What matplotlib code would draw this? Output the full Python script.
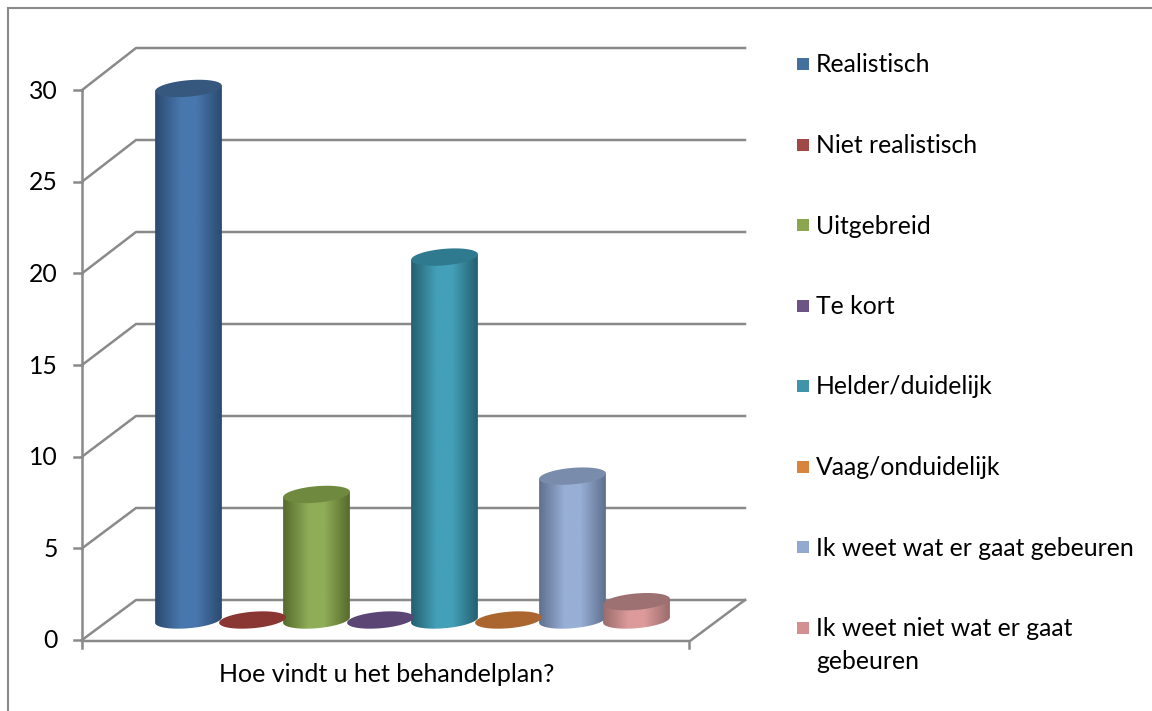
import numpy as np
import matplotlib
matplotlib.use('Agg')
import matplotlib.pyplot as plt
from matplotlib.colors import LinearSegmentedColormap
from matplotlib.patches import PathPatch, Polygon, Rectangle
from matplotlib.path import Path

# datos
categories = ['Realistisch', 'Niet realistisch', 'Uitgebreid', 'Te kort',
              'Helder/duidelijk', 'Vaag/onduidelijk', 'Ik weet wat er gaat gebeuren',
              'Ik weet niet wat er gaat\ngebeuren']
values = [29, 0, 6.85, 0, 19.8, 0, 7.85, 1]
y_ticks = [0, 5, 10, 15, 20, 25, 30]
x_label = 'Hoe vindt u het behandelplan?'

side_colors = ['#2b4a70', '#772c2a', '#566a2c', '#4d3b62', '#255f70', '#b65708', '#5f6f8e', '#9a6c6c']
body_colors = ['#4877ae', '#be4b48', '#8fad57', '#7d60a0', '#43a0b8', '#f79646', '#98afd6', '#dd9a9a']
top_colors = ['#36587f', '#8a3633', '#6f8a3e', '#5b4574', '#2f7a8e', '#aa662e', '#7a8cac', '#9d7071']
legend_colors = ['#44709d', '#a04845', '#8aa64f', '#6c5585', '#3f94a9', '#d8843c', '#93a9cf', '#d29090']

plt.rcParams['font.family'] = ['Lato', 'DejaVu Sans']
GREY = '#8a8a8a'
LW = 1.8

fig = plt.figure(figsize=(11.52, 7.11), dpi=100)
ax = fig.add_axes([0, 0, 1, 1])
ax.axis('off')


def front_y(v):
    return 640 - v * 18.33


def back_y(v):
    return 600 - v * 18.4


def tilted_ellipse(cx, cy, a=33.5, b=8.2, angle=5):
    t = np.linspace(0, 2 * np.pi, 240, endpoint=False)
    th = np.radians(angle)
    x = cx + a * np.cos(t) * np.cos(th) + b * np.sin(t) * np.sin(th)
    y = cy - a * np.cos(t) * np.sin(th) + b * np.sin(t) * np.cos(th)
    return np.column_stack([x, y])


def draw_column(i, v):
    cx = 188.5 + 64 * i
    base = 620
    top = base - v * 18.33
    low = tilted_ellipse(cx, base)
    up = tilted_ellipse(cx, top)
    if v > 0:
        # cuerpo del cilindro: arco inferior y arco superior unidos por los extremos
        left = low[:, 0].argmin()
        right = low[:, 0].argmax()
        arc = np.roll(low, -right, axis=0)[:(left - right) % len(low) + 1]
        body = np.vstack([arc, up[left], up[right]])
        path = Path(np.vstack([body, body[0]]), closed=True)
        clip = PathPatch(path, fc='none', ec='none', transform=ax.transData)
        ax.add_patch(clip)
        cmap = LinearSegmentedColormap.from_list(
            'c', [(0, side_colors[i]), (0.38, body_colors[i]), (0.62, body_colors[i]), (1, side_colors[i])])
        im = ax.imshow(np.linspace(0, 1, 128).reshape(1, -1), cmap=cmap, aspect='auto',
                       extent=(low[:, 0].min(), low[:, 0].max(), base + 12, top - 12), zorder=3)
        im.set_clip_path(clip)
    ax.add_patch(Polygon(up, closed=True, fc=top_colors[i], ec='none', zorder=4))


# marco exterior
ax.plot([8, 8, 1152], [711, 8, 8], color=GREY, lw=1.5, solid_joinstyle='miter')

# paredes y grilla
for v in y_ticks:
    if v > 0:
        ax.plot([82, 136, 745], [front_y(v), back_y(v), back_y(v)], color=GREY, lw=LW, zorder=1)
    ax.plot([74, 82], [front_y(v), front_y(v)], color=GREY, lw=LW, zorder=1)
    ax.text(58, front_y(v) + 1, str(v), ha='right', va='center', fontsize=17.8, color='black')

ax.plot([82, 82], [front_y(30), 648], color=GREY, lw=LW, zorder=1)
ax.plot([82, 136, 745], [front_y(0), back_y(0), back_y(0)], color=GREY, lw=LW, zorder=1)
ax.plot([82, 690, 745], [641, 641, back_y(0)], color=GREY, lw=LW, zorder=1)
ax.plot([689, 689], [641, 648], color=GREY, lw=LW, zorder=1)

for i, v in enumerate(values):
    draw_column(i, v)

ax.text(386.5, 675, x_label, ha='center', va='center', fontsize=18, color='black')

# leyenda
for i, name in enumerate(categories):
    y = 64 + i * 80.5
    ax.add_patch(Rectangle((797, y - 6), 12, 12, fc=legend_colors[i], ec='none', zorder=3))
    lines = name.split('\n')
    ax.text(816, y + 1, lines[0], ha='left', va='center', fontsize=17.8, color='black')
    if len(lines) > 1:
        ax.text(816, y + 34, lines[1], ha='left', va='center', fontsize=17.8, color='black')

ax.set_xlim(0, 1152)
ax.set_ylim(711, 0)
fig.savefig('out.png', dpi=100)
